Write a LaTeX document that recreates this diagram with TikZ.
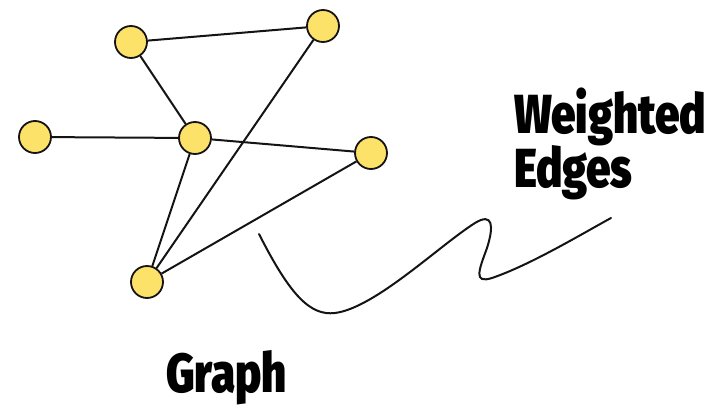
\documentclass[tikz,border=0pt]{standalone}
\usepackage{fontspec}
\newfontfamily\markfont[FakeStretch=0.8]{Fira Sans Black}
\definecolor{vertexfill}{RGB}{252,226,104}
\definecolor{inkline}{RGB}{20,20,20}
\begin{document}
\begin{tikzpicture}[x=1pt,y=-1pt,
  vertex/.style={circle,fill=vertexfill,draw=inkline,line width=1.8pt,minimum size=32pt,inner sep=0pt},
  edge/.style={draw=inkline,line width=2pt},
  caption/.style={inner sep=0pt,outer sep=0pt,anchor=base west,text=black,font=\markfont\fontsize{55}{60}\selectfont}]
\path[use as bounding box] (0,0) rectangle (724,410);
% vertices
\node[vertex] (top) at (131,42) {};
\node[vertex] (topright) at (323,26) {};
\node[vertex] (left) at (35,137) {};
\node[vertex] (hub) at (195,138) {};
\node[vertex] (right) at (371,153) {};
\node[vertex] (bottom) at (147,282) {};
% edges
\draw[edge] (top) -- (topright);
\draw[edge] (top) -- (hub);
\draw[edge] (left) -- (hub);
\draw[edge] (hub) -- (right);
\draw[edge] (hub) -- (bottom);
\draw[edge] (topright) -- (bottom);
\draw[edge] (right) -- (bottom);
% squiggle
\draw[edge,line cap=round] (259,234) .. controls (290,295) and (310,316) .. (335,313)
  .. controls (375,308) and (440,245) .. (475,223)
  .. controls (493,212) and (494,226) .. (487,248)
  .. controls (479,270) and (473,284) .. (492,278)
  .. controls (530,265) and (580,235) .. (611,218);
% labels
\node[caption] (wlabel) at (514,133) {Weighted};
\node[caption] (elabel) at (514,187) {Edges};
\node[caption] (glabel) at (166,392) {Graph};
\end{tikzpicture}
\end{document}
